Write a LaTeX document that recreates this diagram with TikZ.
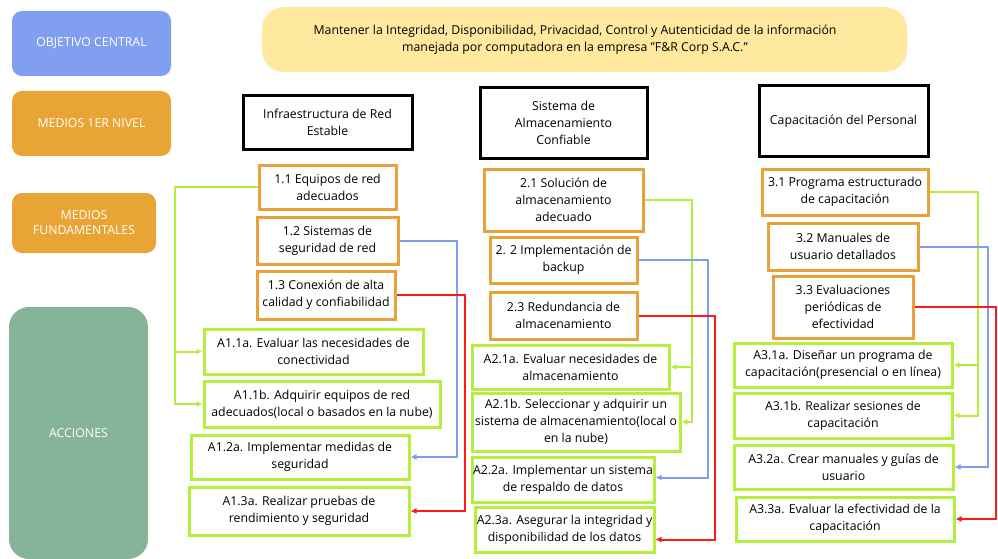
\documentclass[tikz,border=0pt]{standalone}
\usepackage{fontspec}
\setmainfont{Open Sans}
\usepackage{tikz}
\usetikzlibrary{arrows.meta}
\definecolor{objBlue}{HTML}{819FF0}
\definecolor{medOrange}{HTML}{E8A535}
\definecolor{accGreen}{HTML}{86B499}
\definecolor{goalYellow}{HTML}{FEE99E}
\definecolor{limeLine}{HTML}{B6EE3E}
\definecolor{boxOrange}{HTML}{E9A23B}
\definecolor{linkBlue}{HTML}{7F9DF3}
\definecolor{linkRed}{HTML}{FF1A1A}
\tikzset{
  every node/.style={font=\fontsize{12.3}{17}\selectfont, align=center, inner sep=1pt},
  levelbox/.style={rounded corners=10pt, text=white, minimum width=#1},
  meanbox/.style={draw=black, line width=3pt, fill=white},
  basebox/.style={draw=boxOrange, line width=3pt, fill=white},
  actbox/.style={draw=limeLine, line width=3pt, fill=white},
  glink/.style={draw=limeLine, line width=2pt, -{Latex[length=6pt,width=6pt]}},
  blink/.style={draw=linkBlue, line width=2pt, -{Latex[length=6pt,width=6pt]}},
  rlink/.style={draw=linkRed, line width=2pt, -{Latex[length=6pt,width=6pt]}}
}

\begin{document}
\begin{tikzpicture}[x=1pt, y=-1pt]
  \useasboundingbox (0,0) rectangle (998,559);
  % left column of levels
  \node[levelbox=159pt, fill=objBlue, minimum height=65pt] (obj) at (91.5,43.5) {OBJETIVO CENTRAL};
  \node[levelbox=159pt, fill=medOrange, minimum height=65pt] (med1) at (91.5,123.5) {MEDIOS 1ER NIVEL};
  \node[levelbox=144pt, fill=medOrange, minimum height=60pt] (medf) at (84,223) {MEDIOS\\[-2pt]FUNDAMENTALES};
  \node[levelbox=139pt, fill=accGreen, minimum height=252pt, rounded corners=20pt] (acc) at (78.5,433) {ACCIONES};

  % central goal
  \node[fill=goalYellow, rounded corners=22pt, minimum width=645pt, minimum height=65pt] (goal) at (584.5,39.5) {};
  \node (goaltext) at (575,40) {Mantener la Integridad, Disponibilidad, Privacidad, Control y Autenticidad de la información\\manejada por computadora en la empresa \char34 F\&R Corp S.A.C.\char34};

  % first level means
  \node[meanbox, minimum width=169pt, minimum height=53pt] (infra) at (327.5,122.5) {Infraestructura de Red\\Estable};
  \node[meanbox, minimum width=167pt, minimum height=70pt] (alma) at (563.5,123) {Sistema de\\Almacenamiento\\Confiable};
  \node[meanbox, minimum width=169pt, minimum height=70pt] (capa) at (843.5,121) {Capacitación del Personal};

  % fundamental means
  \node[basebox, minimum width=137pt, minimum height=44pt] (e11) at (327.5,187) {1.1 Equipos de red\\adecuados};
  \node[basebox, minimum width=141pt, minimum height=47pt] (e12) at (327.5,240.5) {1.2 Sistemas de\\seguridad de red};
  \node[basebox, minimum width=138pt, minimum height=48pt] (e13) at (326,295) {1.3 Conexión de alta\\calidad y confiabilidad};
  \node[basebox, minimum width=159pt, minimum height=62pt] (e21) at (563.5,200) {2.1 Solución de\\almacenamiento\\adecuado};
  \node[basebox, minimum width=147pt, minimum height=46pt] (e22) at (563.5,260) {2. 2 Implementación de\\backup};
  \node[basebox, minimum width=147pt, minimum height=47pt] (e23) at (563.5,315.5) {2.3 Redundancia de\\almacenamiento};
  \node[basebox, minimum width=166pt, minimum height=46pt] (e31) at (845,192) {3.1 Programa estructurado\\de capacitación};
  \node[basebox, minimum width=150pt, minimum height=47pt] (e32) at (843,246.5) {3.2 Manuales de\\usuario detallados};
  \node[basebox, minimum width=140pt, minimum height=62pt] (e33) at (843,307) {3.3 Evaluaciones\\periódicas de\\efectividad};

  % actions
  \node[actbox, minimum width=219pt, minimum height=45pt] (a11a) at (313.5,351.5) {A1.1a. Evaluar las necesidades de\\conectividad};
  \node[actbox, minimum width=236pt, minimum height=46pt] (a11b) at (322,404) {A1.1b. Adquirir equipos de red\\adecuados(local o basados en la nube)};
  \node[actbox, minimum width=218pt, minimum height=44pt] (a12a) at (300,457) {A1.2a. Implementar medidas de\\seguridad};
  \node[actbox, minimum width=220pt, minimum height=48pt] (a13a) at (299,511) {A1.3a. Realizar pruebas de\\rendimiento y seguridad};
  \node[actbox, minimum width=197pt, minimum height=44pt] (a21a) at (570.5,367) {A2.1a. Evaluar necesidades de\\almacenamiento};
  \node[actbox, minimum width=208pt, minimum height=58pt] (a21b) at (576,422) {A2.1b. Seleccionar y adquirir un\\sistema de almacenamiento(local o\\en la nube)};
  \node[actbox, minimum width=182pt, minimum height=45pt] (a22a) at (563,479.5) {A2.2a. Implementar un sistema\\de respaldo de datos};
  \node[actbox, minimum width=179pt, minimum height=45pt] (a23a) at (564.5,529.5) {A2.3a. Asegurar la integridad y\\disponibilidad de los datos};
  \node[actbox, minimum width=218pt, minimum height=44pt] (a31a) at (843,365) {A3.1a. Diseñar un programa de\\capacitación(presencial o en línea)};
  \node[actbox, minimum width=218pt, minimum height=45pt] (a31b) at (843,415.5) {A3.1b. Realizar sesiones de\\capacitación};
  \node[actbox, minimum width=219pt, minimum height=44pt] (a32a) at (843.5,467) {A3.2a. Crear manuales y guías de\\usuario};
  \node[actbox, minimum width=218pt, minimum height=44pt] (a33a) at (845,519) {A3.3a. Evaluar la efectividad de la\\capacitación};

  % links
  \draw[glink] (e11.west) -- ++(-83,0) |- (a11a.west);
  \draw[glink] (e11.west) -- ++(-83,0) |- (a11b.west);
  \draw[blink] (e12.east) -- ++(57,0) |- (a12a.east);
  \draw[rlink] (e13.east) -- ++(68,0) |- (a13a.east);
  \draw[glink] (e21.east) -- ++(47,0) |- (a21a.east);
  \draw[glink] (e21.east) -- ++(47,0) |- (a21b.east);
  \draw[blink] (e22.east) -- ++(69,0) |- ([yshift=2pt]a22a.east);
  \draw[rlink] (e23.east) -- ++(76,0) |- ([yshift=-10pt]a23a.east);
  \draw[glink] (e31.east) -- ++(48,0) |- (a31a.east);
  \draw[glink] (e31.east) -- ++(48,0) |- (a31b.east);
  \draw[blink] (e32.east) -- ++(68,0) |- (a32a.east);
  \draw[rlink] (e33.east) -- ++(81,0) |- (a33a.east);
\end{tikzpicture}
\end{document}
